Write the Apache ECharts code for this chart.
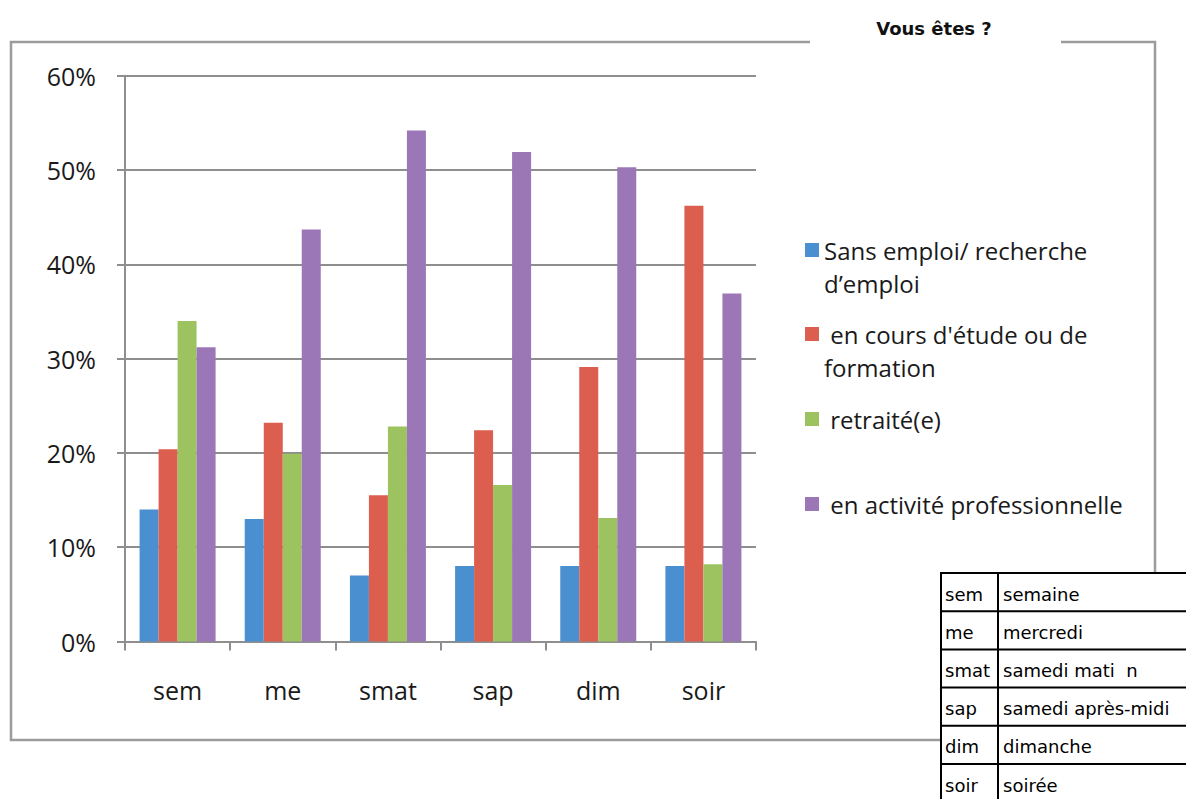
<!DOCTYPE html>
<html>
<head>
<meta charset="utf-8">
<script src="https://cdn.jsdelivr.net/npm/echarts@6/dist/echarts.min.js"></script>
<style>
html,body{margin:0;padding:0;background:#fff;}
#chart{width:1186px;height:799px;}
</style>
</head>
<body>
<div id="chart"></div>
<script>
// ---- data ----
const categories = ['sem', 'me', 'smat', 'sap', 'dim', 'soir'];
const categoryNames = ['semaine', 'mercredi', 'samedi mati  n', 'samedi après-midi', 'dimanche', 'soirée'];
const seriesNames = ['Sans emploi/ recherche d’emploi', 'en cours d\'étude ou de formation', 'retraité(e)', 'en activité professionnelle'];
const legendLines = [['Sans emploi/ recherche', 'd’emploi'], [' en cours d\'étude ou de', 'formation'], [' retraité(e)'], [' en activité professionnelle']];
const sansEmploi = [14.0, 13.0, 7.0, 8.0, 8.0, 8.0];
const etudeFormation = [20.4, 23.2, 15.5, 22.4, 29.1, 46.2];
const retraite = [34.0, 19.9, 22.8, 16.6, 13.1, 8.2];
const activitePro = [31.2, 43.7, 54.2, 51.9, 50.3, 36.9];
const yTicks = [0, 10, 20, 30, 40, 50, 60];
const title = 'Vous êtes ?';

const colors = ['#4a8fd0', '#dc5e4e', '#9cc35f', '#9b77b7'];
const seriesData = [sansEmploi, etudeFormation, retraite, activitePro];

const chart = echarts.init(document.getElementById('chart'), null, {renderer: 'svg'});

const series = seriesNames.map((n, i) => ({
  name: n,
  type: 'bar',
  data: seriesData[i],
  barWidth: 19,
  barGap: '0%',
  itemStyle: {color: colors[i]},
  z: 3
}));

// legends, one per series to match irregular spacing
const legendCenters = [250, 334, 419, 504];
const legends = seriesNames.map((n, i) => {
  const two = legendLines[i].length > 1;
  return {
    data: [n],
    orient: 'vertical',
    left: 805,
    top: two ? legendCenters[i] - 49.5 : legendCenters[i] - 16.5,
    padding: 0,
    itemWidth: 14,
    itemHeight: 14,
    icon: 'rect',
    selectedMode: false,
    // leading blank line keeps the icon aligned with the first text line
    formatter: () => (two ? '\n' : '') + legendLines[i].join('\n'),
    textStyle: {
      fontFamily: 'Open Sans',
      fontSize: 24,
      color: '#1a1a1a',
      lineHeight: 33
    }
  };
});

// graphic: frame, title, table
const graphics = [];
graphics.push({type: 'rect', shape: {x: 11, y: 42, width: 1144, height: 698}, style: {fill: 'none', stroke: '#9c9c9c', lineWidth: 2.5}, z: -10, silent: true});
graphics.push({type: 'rect', shape: {x: 810, y: 36, width: 251, height: 12}, style: {fill: '#fff'}, z: -9, silent: true});
graphics.push({type: 'text', x: 934, y: 28, style: {text: title, font: 'bold 18px "DejaVu Sans"', fill: '#111', align: 'center', verticalAlign: 'middle'}, z: 10});

const tX = 941, tY = 573, rowH = 38.2, col2 = 998, tRight = 1200;
const nRows = categories.length;
graphics.push({type: 'rect', shape: {x: tX, y: tY, width: tRight - tX, height: rowH * nRows + 10}, style: {fill: '#fff', stroke: '#000', lineWidth: 2}, z: 20, silent: true});
for (let r = 1; r < nRows; r++) {
  graphics.push({type: 'line', shape: {x1: tX, y1: tY + r * rowH, x2: tRight, y2: tY + r * rowH}, style: {stroke: '#000', lineWidth: 2}, z: 21, silent: true});
}
graphics.push({type: 'line', shape: {x1: col2, y1: tY, x2: col2, y2: 799}, style: {stroke: '#000', lineWidth: 2}, z: 21, silent: true});
categories.forEach((c, r) => {
  const cy = tY + r * rowH + rowH / 2 + 2;
  graphics.push({type: 'text', x: tX + 4, y: cy, style: {text: c, font: '18px "DejaVu Sans"', fill: '#000', verticalAlign: 'middle'}, z: 22});
  graphics.push({type: 'text', x: col2 + 5, y: cy, style: {text: categoryNames[r], font: '18px "DejaVu Sans"', fill: '#000', verticalAlign: 'middle'}, z: 22});
});

const option = {
  backgroundColor: '#fff',
  animation: false,
  textStyle: {fontFamily: 'Open Sans'},
  grid: {left: 125, right: 430, top: 75.7, bottom: 157.5, containLabel: false},
  legend: legends,
  xAxis: {
    type: 'category',
    data: categories,
    axisLine: {lineStyle: {color: '#8e8e8e', width: 2}},
    axisTick: {show: true, alignWithLabel: false, length: 9, lineStyle: {color: '#8e8e8e', width: 2}},
    axisLabel: {fontFamily: 'Open Sans', fontSize: 25, color: '#1a1a1a', margin: 36}
  },
  yAxis: {
    type: 'value',
    min: yTicks[0],
    max: yTicks[yTicks.length - 1],
    interval: yTicks[1] - yTicks[0],
    axisLine: {show: true, lineStyle: {color: '#8e8e8e', width: 2}},
    axisTick: {show: true, length: 8, lineStyle: {color: '#8e8e8e', width: 2}},
    splitLine: {show: true, lineStyle: {color: '#8e8e8e', width: 2}},
    axisLabel: {fontFamily: 'Open Sans', fontSize: 25, color: '#1a1a1a', margin: 29, formatter: '{value}%'}
  },
  series: series,
  graphic: graphics
};
chart.setOption(option);
</script>
</body>
</html>
